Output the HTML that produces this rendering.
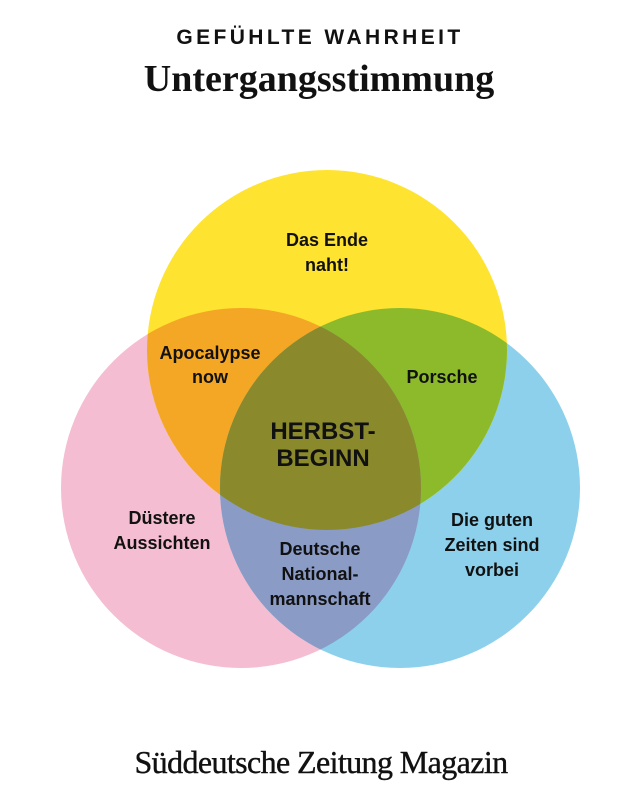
<!DOCTYPE html>
<html><head><meta charset="utf-8"><style>
html,body{margin:0;padding:0;background:#fff;width:640px;height:800px;overflow:hidden}
svg{display:block}
</style></head><body>
<svg width="640" height="800" viewBox="0 0 640 800" xmlns="http://www.w3.org/2000/svg">
<defs>
<clipPath id="cy"><circle cx="327" cy="350" r="180"/></clipPath>
<clipPath id="cp"><circle cx="241" cy="488" r="180"/></clipPath>
<clipPath id="cb"><circle cx="400" cy="488" r="180"/></clipPath>
</defs>
<rect width="640" height="800" fill="#fff"/>
<text x="320" y="44" text-anchor="middle" font-family="Liberation Sans, sans-serif" font-weight="bold" font-size="21" letter-spacing="3.4" fill="#111">GEFÜHLTE WAHRHEIT</text>
<text x="319" y="91" text-anchor="middle" font-family="Liberation Serif, serif" font-weight="bold" font-size="38" fill="#111">Untergangsstimmung</text>

<circle cx="241" cy="488" r="180" fill="#F5BDD1"/>
<circle cx="400" cy="488" r="180" fill="#8DD0EC"/>
<circle cx="327" cy="350" r="180" fill="#FEE330"/>
<g clip-path="url(#cy)"><circle cx="241" cy="488" r="180" fill="#F4A724"/><circle cx="400" cy="488" r="180" fill="#8CBA2A"/></g>
<g clip-path="url(#cp)"><circle cx="400" cy="488" r="180" fill="#8A9BC6"/></g>
<g clip-path="url(#cp)"><g clip-path="url(#cb)"><circle cx="327" cy="350" r="180" fill="#8A8A2C"/></g></g>

<g font-family="Liberation Sans, sans-serif" font-weight="bold" font-size="18" fill="#111" text-anchor="middle">
<text x="327" y="246">Das Ende</text><text x="327" y="271">naht!</text>
<text x="210" y="359">Apocalypse</text><text x="210" y="383">now</text>
<text x="442" y="383">Porsche</text>
<text x="162" y="524">Düstere</text><text x="162" y="549">Aussichten</text>
<text x="492" y="526">Die guten</text><text x="492" y="551">Zeiten sind</text><text x="492" y="576">vorbei</text>
<text x="320" y="555">Deutsche</text><text x="320" y="580">National-</text><text x="320" y="605">mannschaft</text>
<text x="323" y="439" font-size="24">HERBST-</text><text x="323" y="466" font-size="24">BEGINN</text>
</g>
<text x="321" y="773" text-anchor="middle" font-family="Liberation Serif, serif" font-size="32" fill="#111" letter-spacing="-0.6" stroke="#111" stroke-width="0.4">Süddeutsche Zeitung Magazin</text>
</svg>
</body></html>
